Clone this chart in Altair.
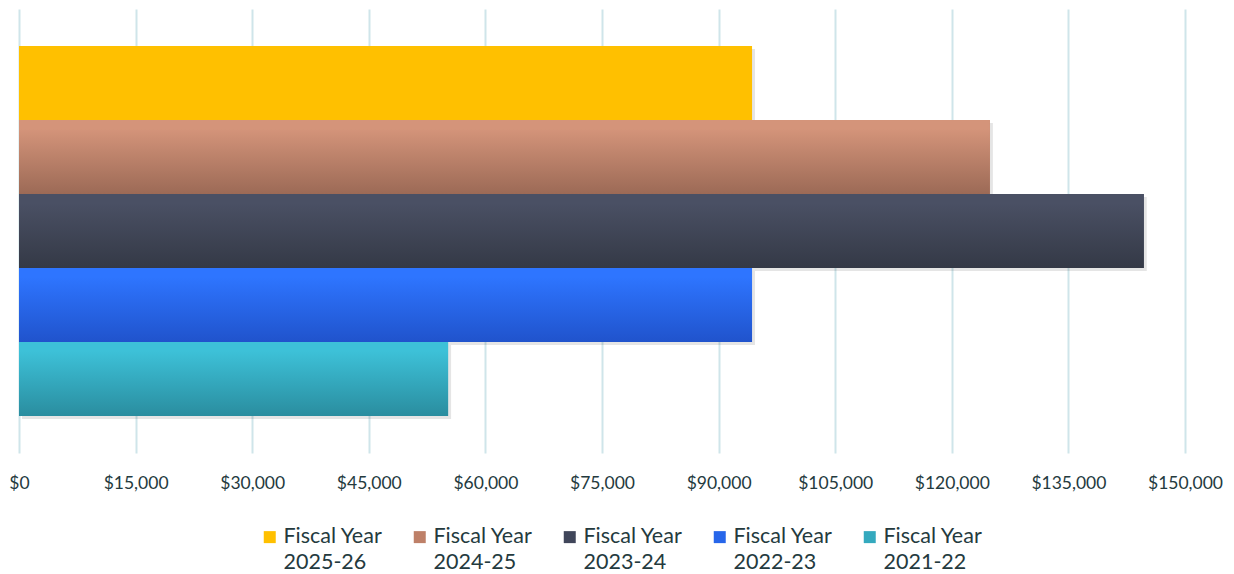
import altair as alt
import pandas as pd

series = ["Fiscal Year 2025-26", "Fiscal Year 2024-25", "Fiscal Year 2023-24",
          "Fiscal Year 2022-23", "Fiscal Year 2021-22"]
values = [94300, 124900, 144700, 94300, 55200]
solid = ["#FFC000", "#BE8068", "#40465A", "#2766EA", "#34A9BE"]
grad_top = ["#FFC000", "#D4947A", "#4A5064", "#2E75FF", "#3DC1D8"]
grad_bot = ["#FFC000", "#9C6A56", "#343946", "#2053CC", "#2A8D9F"]
ticks = list(range(0, 150001, 15000))

df = pd.DataFrame({"series": series, "value": values})

FONT = "Lato"
TXT = "#243A3E"

x_enc = alt.X("value:Q",
              scale=alt.Scale(domain=[0, 150000], nice=False),
              axis=alt.Axis(values=ticks, format="$,.0f", title=None, ticks=False, domain=False,
                            grid=True, gridColor="#CFE5EA", gridWidth=2,
                            labelFlush=False, labelOverlap=False,
                            labelFont=FONT, labelFontSize=17.5, labelColor=TXT,
                            labelPadding=21))
y_enc = alt.Y("series:N", sort=series,
              scale=alt.Scale(domain=series, paddingInner=0, paddingOuter=0.5),
              axis=None)

base = alt.Chart(df)

shadow = base.mark_bar(xOffset=3, yOffset=3, color="#000000", opacity=0.10).encode(x=x_enc, y=y_enc)

legend_layer = base.mark_bar().encode(
    x=x_enc, y=y_enc,
    color=alt.Color("series:N", sort=series,
                    scale=alt.Scale(domain=series, range=solid),
                    legend=alt.Legend(orient="none", legendX=240, legendY=517, direction="horizontal",
                                      columns=5, title=None, symbolType="square", symbolSize=144,
                                      symbolStrokeWidth=0, labelFont=FONT, labelFontSize=21.5,
                                      labelColor=TXT, labelOffset=3, columnPadding=26, padding=0,
                                      labelExpr="['Fiscal Year', slice(datum.label, 12)]"))
)

layers = [shadow, legend_layer]
for s, t, b in zip(series, grad_top, grad_bot):
    g = alt.Gradient(gradient="linear", x1=0, x2=0, y1=0, y2=1,
                     stops=[alt.GradientStop(color=t, offset=0),
                            alt.GradientStop(color=t, offset=0.12),
                            alt.GradientStop(color=b, offset=1)])
    layers.append(base.mark_bar(fill=g).encode(x=x_enc, y=y_enc).transform_filter(alt.datum.series == s))

chart = alt.layer(*layers).properties(
    width=1166, height=444,
    padding={"left": 0, "top": 1, "right": 0, "bottom": 20}
).configure(style={"guide-label": {"lineHeight": 26}}, view=alt.ViewConfig(strokeWidth=0))

chart.save("out.html", embed_options={"renderer": "svg", "actions": False})
